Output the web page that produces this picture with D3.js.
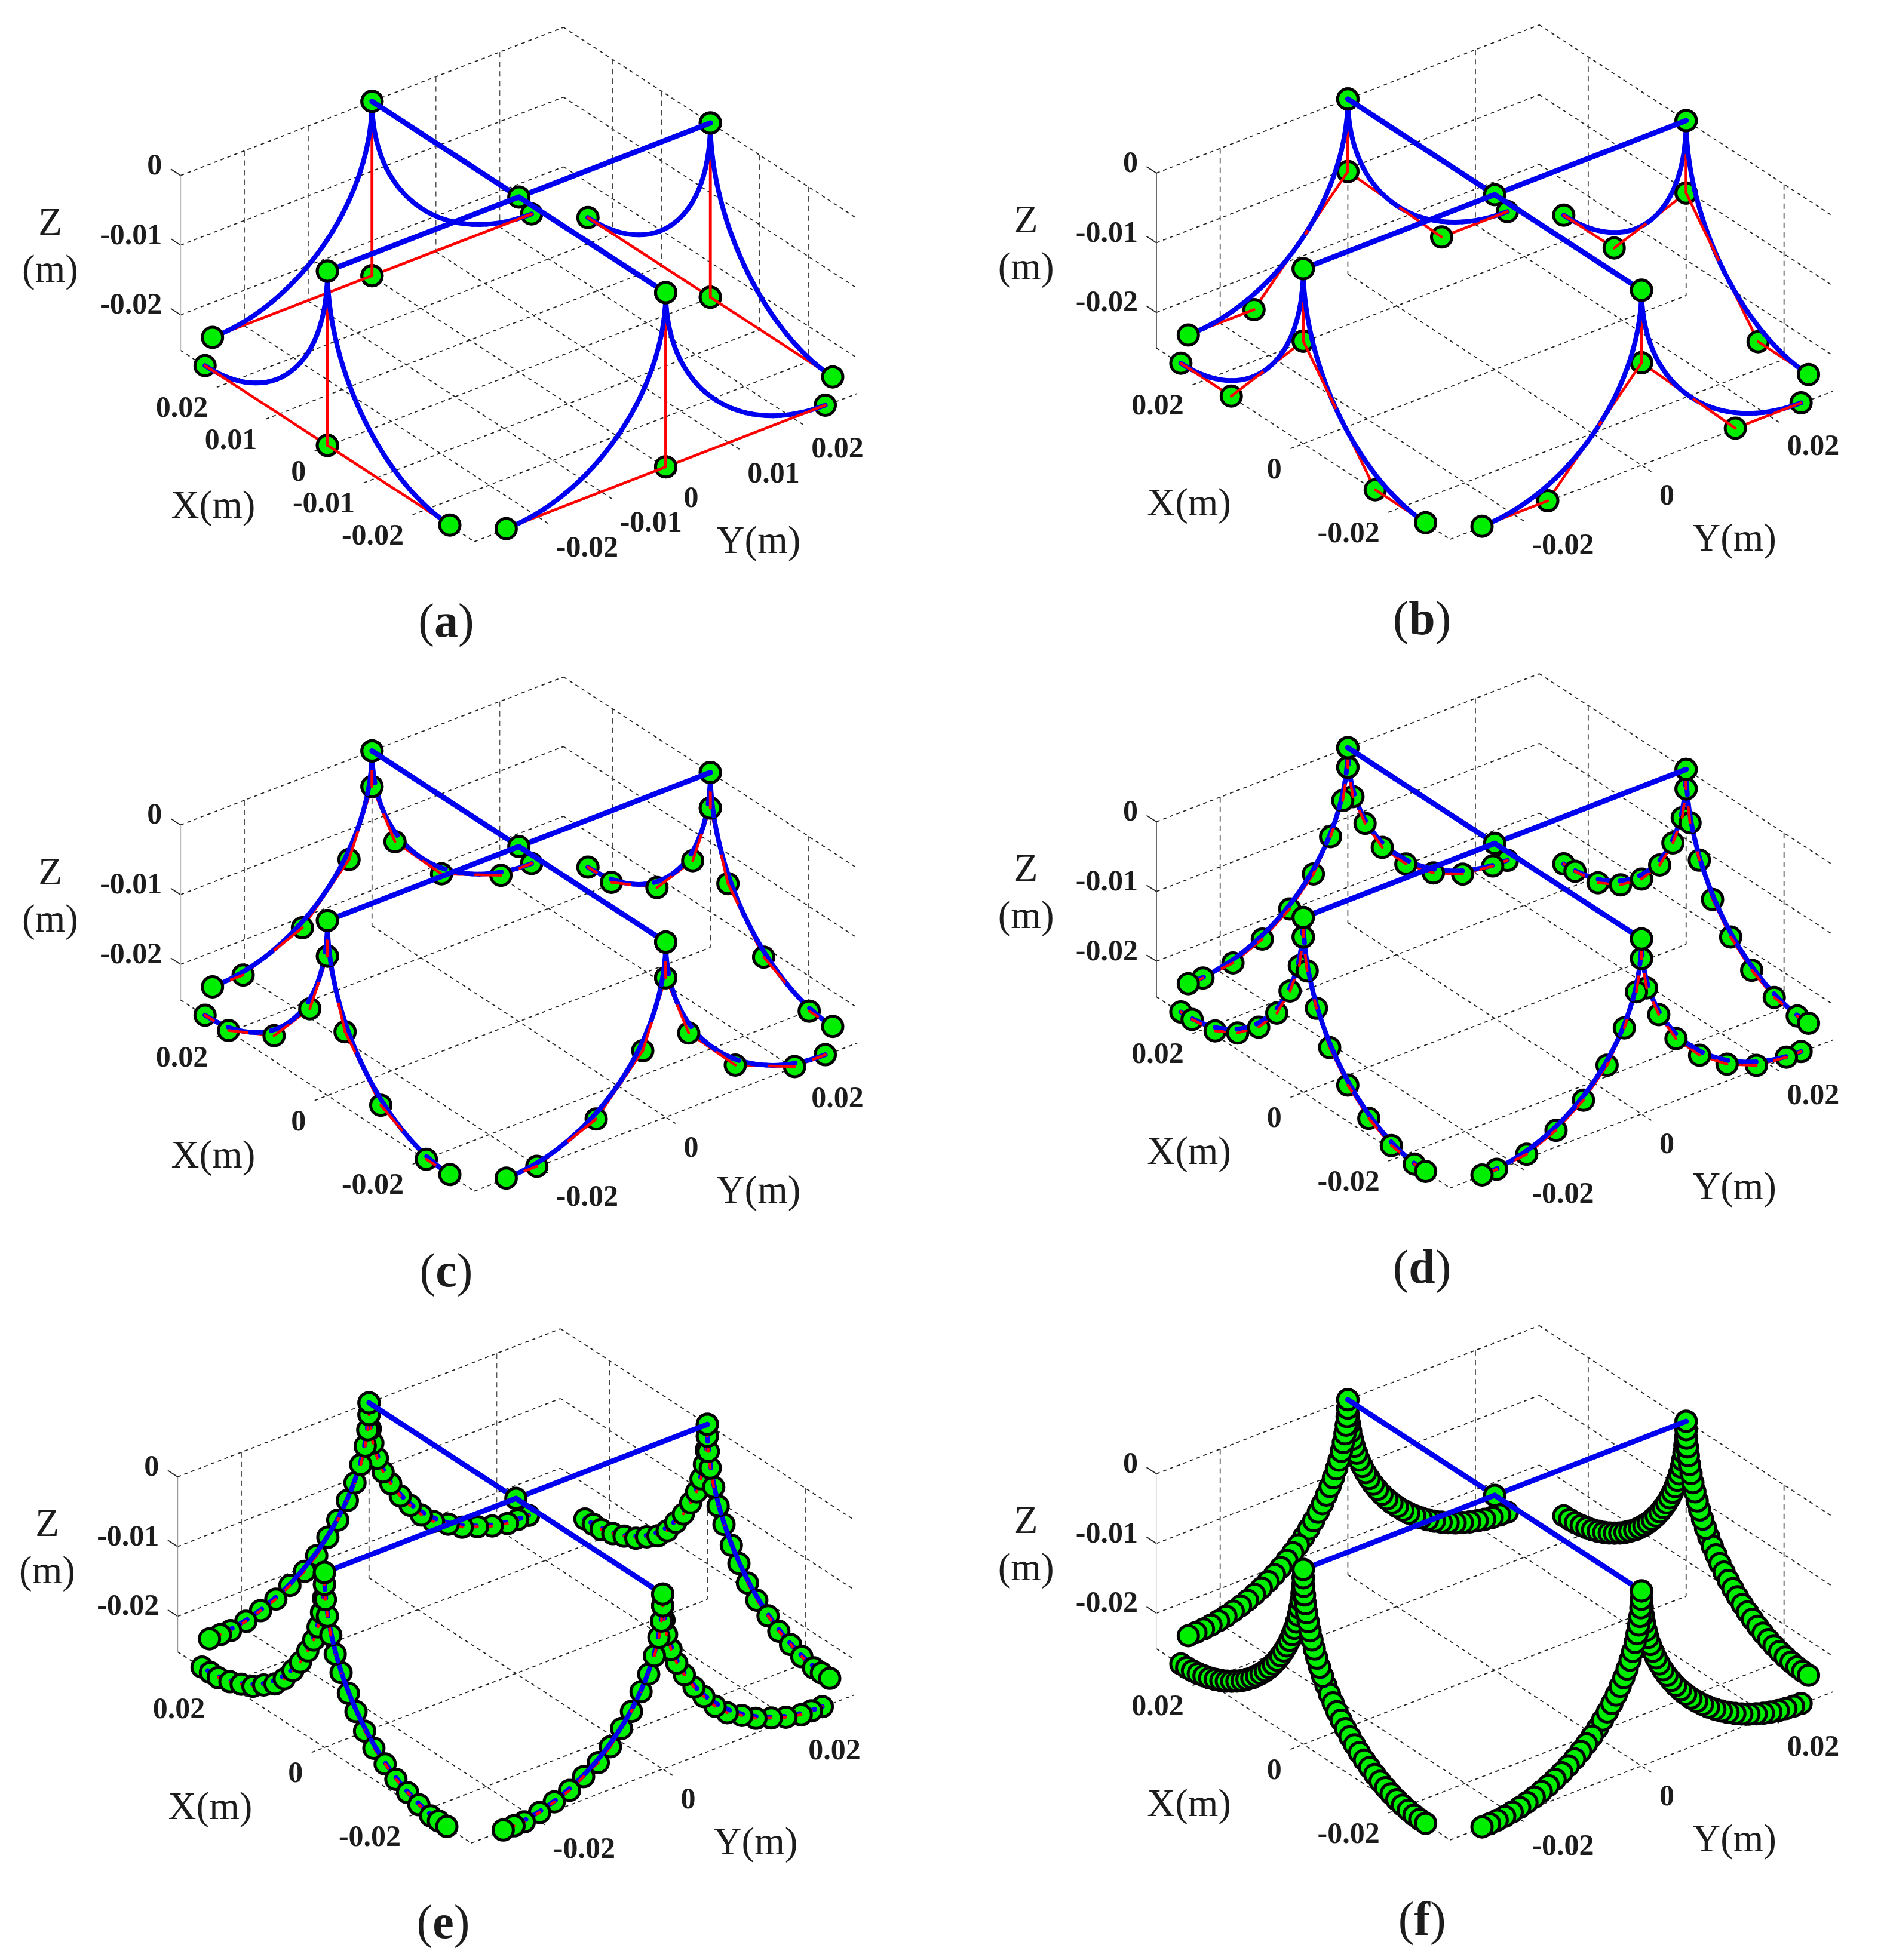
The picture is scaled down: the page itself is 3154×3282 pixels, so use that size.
<!DOCTYPE html>
<html>
<head>
<meta charset="utf-8">
<script src="https://cdn.jsdelivr.net/npm/d3@7"></script>
<style>
body{margin:0;background:#fff;}
text{font-family:"Liberation Serif","Times New Roman",serif;fill:#1c1c1c;}
</style>
</head>
<body>
<script>
const WIDTH = 3154;
const HEIGHT = 3282;

// tick values and their labels, panel (a) has the full set
const TICKS_FULL = [-0.02,-0.01,0,0.01,0.02];
const TICKS_SHORT = [-0.02,0,0.02];
const Z_TICKS = [0,-0.01,-0.02];
const PANEL_NAMES = ['a','b','c','d','e','f'];

// nodes of one half arc: distance from the mast along the edge (m), height (m)
const uA = [0.025,0,0];
const zA = [-0.025,-0.025,0];
const uB = [0.025,0.0147,0,0];
const zB = [-0.025,-0.025,-0.0104,0];
const uC = [0.025,0.0202,0.0109,0.0036,0,0];
const zC = [-0.025,-0.025,-0.0215,-0.0143,-0.0051,0];
const uD = [0.025,0.0227,0.018,0.0134,0.0091,0.0054,0.0027,0.0008,0,0];
const zD = [-0.025,-0.025,-0.0245,-0.0227,-0.0199,-0.0162,-0.0118,-0.0073,-0.0028,0];
const uE = [0.025,0.0233,0.0217,0.0193,0.017,0.0146,0.0124,0.0101,0.0082,0.00645,0.0049,0.0034,0.0022,0.0013,0.0006,0.0002,0,0];
const zE = [-0.025,-0.025,-0.025,-0.0245,-0.0238,-0.023,-0.0218,-0.0206,-0.019,-0.017,-0.0151,-0.0128,-0.0107,-0.0084,-0.006,-0.0038,-0.0017,0];
const uF = [0.025,0.02381,0.02262,0.02144,0.02027,0.0191,0.01796,0.01682,0.01571,0.01462,0.01355,0.0125,0.01149,0.0105,0.00955,0.00863,0.00775,0.00691,0.00611,0.00535,0.00464,0.00397,0.00335,0.00278,0.00226,0.00179,0.00138,0.00101,0.00071,0.00045,0.00026,0.00011,0.00003,0];
const zF = [-0.025,-0.02497,-0.02489,-0.02475,-0.02455,-0.0243,-0.02399,-0.02363,-0.02321,-0.02274,-0.02222,-0.02165,-0.02103,-0.02037,-0.01965,-0.01889,-0.01809,-0.01725,-0.01637,-0.01546,-0.0145,-0.01352,-0.0125,-0.01146,-0.01039,-0.00929,-0.00818,-0.00704,-0.0059,-0.00473,-0.00356,-0.00238,-0.00119,0];

// the blue cable has the same shape in all panels
const curveU = uF;
const curveZ = zF;

const panelU = [uA,uB,uC,uD,uE,uF];
const panelZ = [zA,zB,zC,zD,zE,zF];

// bottom corner of each box on the page
const originX = [794,2427.6,794,2427.6,789,2427.6];
const originY = [907,903,1994.6,1989.3,3086.2,3081];
const zAxisGrey = ['#bdbdbd','#444','#bdbdbd','#444','#999','#ddd'];

const BOX = 0.03;
const FLOOR = -0.0251;
const TICK = 0.002;

var xToSx = d3.scaleLinear().domain([-BOX,BOX]).range([0,-491.7]);
var xToSy = d3.scaleLinear().domain([-BOX,BOX]).range([0,-320.2]);
var yToSx = d3.scaleLinear().domain([-BOX,BOX]).range([0,641]);
var yToSy = d3.scaleLinear().domain([-BOX,BOX]).range([0,-248]);
var zToSy = d3.scaleLinear().domain([FLOOR,0]).range([0,-293]);

// oblique view of the box, relative to its bottom corner
var project = function(p){
	return [xToSx(p[0])+yToSx(p[1]), xToSy(p[0])+yToSy(p[1])+zToSy(p[2])];
}

// how close a point is to the camera, used to stack the marks
var closeness = function(p){
	return -9244*p[0] - 7159*p[1] + 6736*p[2];
}

// the four cable edges: u runs along the edge, sign picks the side of the mast
var edgePoint = function(edge,side,u,z){
	if(edge==0) return [-BOX,side*u,z];
	if(edge==1) return [side*u,-BOX,z];
	if(edge==2) return [BOX,side*u,z];
	return [side*u,BOX,z];
}

var svg = d3.select('body').append('svg').attr('width',WIDTH).attr('height',HEIGHT);

var gridLine = function(g,a,b,dash,color){
	var p = project(a), q = project(b);
	g.append('line')
		.attr('x1',p[0]).attr('y1',p[1])
		.attr('x2',q[0]).attr('y2',q[1])
		.attr('stroke',color||'#222')
		.attr('stroke-width',1.8)
		.attr('stroke-dasharray',dash);
}

var drawGrid = function(g,ticks,i){
	var dash = '6 6';
	Z_TICKS.forEach(function(z){
		gridLine(g,[BOX,-BOX,z],[BOX,BOX,z],dash);
		gridLine(g,[BOX,BOX,z],[-BOX,BOX,z],dash);
		gridLine(g,[BOX+TICK,-BOX,z],[BOX,-BOX,z],null);
	});
	ticks.forEach(function(t){
		gridLine(g,[BOX,t,0],[BOX,t,FLOOR],'9 7','#555');
		gridLine(g,[t,BOX,0],[t,BOX,FLOOR],'9 7','#444');
		gridLine(g,[t,-BOX-TICK,FLOOR],[t,BOX,FLOOR],dash);
		gridLine(g,[-BOX-TICK,t,FLOOR],[BOX,t,FLOOR],dash);
	});
	gridLine(g,[BOX,-BOX,FLOOR],[-BOX,-BOX,FLOOR],dash);
	gridLine(g,[-BOX,-BOX,FLOOR],[-BOX,BOX,FLOOR],dash);
	gridLine(g,[BOX,-BOX,0],[BOX,-BOX,FLOOR],null,zAxisGrey[i]);
}

var tickText = function(v){
	return v==0 ? '0' : String(v);
}

var drawLabels = function(g,ticks,i){
	ticks.forEach(function(t){
		var p = project([t,-BOX,FLOOR]);
		g.append('text').attr('x',p[0]-36).attr('y',p[1]+41+17)
			.attr('text-anchor','end').attr('font-size',50).attr('font-weight','bold')
			.text(tickText(t));
		var q = project([-BOX,t,FLOOR]);
		g.append('text').attr('x',q[0]+30).attr('y',q[1]+49+17)
			.attr('text-anchor','start').attr('font-size',50).attr('font-weight','bold')
			.text(tickText(t));
	});
	Z_TICKS.forEach(function(z){
		var p = project([BOX,-BOX,z]);
		g.append('text').attr('x',p[0]-31).attr('y',p[1]-19+17)
			.attr('text-anchor','end').attr('font-size',50).attr('font-weight','bold')
			.text(tickText(z));
	});
	var name = function(x,y,s){
		g.append('text').attr('x',x).attr('y',y)
			.attr('text-anchor','middle').attr('font-size',65).text(s);
	}
	name(-710,-535+21,'Z');
	name(-710,-456+21,'(m)');
	name(-437,-61+21,'X(m)');
	name(476,-2+21,'Y(m)');
	var letter = g.append('text').attr('x',-47).attr('y',135+24)
		.attr('text-anchor','middle').attr('font-size',80);
	letter.append('tspan').text('(');
	letter.append('tspan').attr('font-weight','bold').text(PANEL_NAMES[i]);
	letter.append('tspan').text(')');
}

// every segment and marker goes into one list, sorted back to front
var collectMarks = function(i){
	var marks = [];
	var us = panelU[i], zs = panelZ[i];
	var addSegment = function(a,b,color,w){
		marks.push({kind:'line',a:project(a),b:project(b),color:color,w:w,depth:(closeness(a)+closeness(b))/2});
	}
	var addMarker = function(p){
		marks.push({kind:'dot',a:project(p),depth:closeness(p)});
	}
	d3.range(4).forEach(function(edge){
		[-1,1].forEach(function(side){
			us.forEach(function(u,k){
				var p = edgePoint(edge,side,u,zs[k]);
				addMarker(p);
				if(k>0) addSegment(edgePoint(edge,side,us[k-1],zs[k-1]),p,'#ff0000',4.5);
			});
			curveU.forEach(function(u,k){
				if(k>0) addSegment(edgePoint(edge,side,curveU[k-1],curveZ[k-1]),edgePoint(edge,side,u,curveZ[k]),'#0000f0',8);
			});
		});
	});
	// the two beams meet at the centre node
	var centre = [0,0,0];
	[[BOX,0,0],[-BOX,0,0],[0,BOX,0],[0,-BOX,0]].forEach(function(top){
		addSegment(top,centre,'#0000f0',9);
	});
	addMarker(centre);
	return marks.sort(function(m,n){ return m.depth-n.depth; });
}

var drawMarks = function(g,i){
	g.selectAll('.mark')
		.data(collectMarks(i))
		.enter()
		.append(function(d){
			return document.createElementNS('http://www.w3.org/2000/svg',d.kind=='dot' ? 'circle' : 'line');
		})
		.classed('mark',true)
		.each(function(d){
			var el = d3.select(this);
			if(d.kind=='dot'){
				el.attr('cx',d.a[0]).attr('cy',d.a[1]).attr('r',17)
					.attr('fill','#00ee00').attr('stroke','#000').attr('stroke-width',5);
			}else{
				el.attr('x1',d.a[0]).attr('y1',d.a[1]).attr('x2',d.b[0]).attr('y2',d.b[1])
					.attr('stroke',d.color).attr('stroke-width',d.w).attr('stroke-linecap','round');
			}
		});
}

PANEL_NAMES.forEach(function(name,i){
	var g = svg.append('g').attr('transform','translate('+originX[i]+','+originY[i]+')');
	var ticks = i==0 ? TICKS_FULL : TICKS_SHORT;
	drawGrid(g,ticks,i);
	drawLabels(g,ticks,i);
	drawMarks(g,i);
});
</script>
</body>
</html>
